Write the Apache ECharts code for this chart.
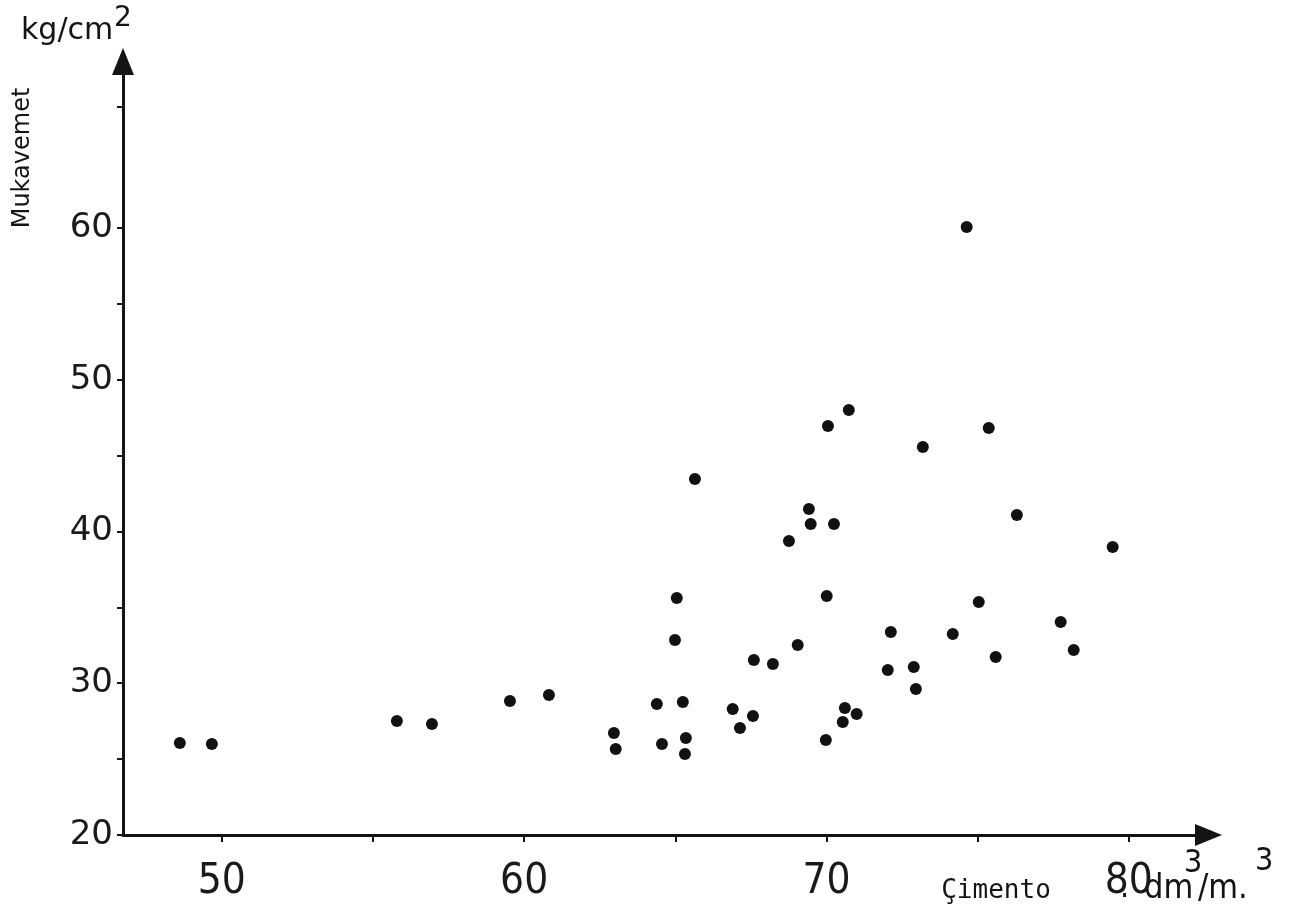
<!DOCTYPE html>
<html><head><meta charset="utf-8">
<script src="https://cdn.jsdelivr.net/npm/echarts@6/dist/echarts.min.js"></script>
<style>html,body{margin:0;padding:0;background:#fff}#c{width:1296px;height:919px}</style>
</head><body><div id="c"></div>
<script>
// Çimento (dm3/m3)
const cement = [48.61, 49.67, 55.79, 56.95, 59.53, 60.82, 62.97, 63.03, 64.39, 64.56,
  64.99, 65.05, 65.25, 65.35, 65.32, 65.65, 66.90, 67.14, 67.57, 67.60,
  68.23, 68.76, 69.05, 69.42, 69.48, 69.98, 70.01, 70.05, 70.25, 70.54,
  70.61, 70.74, 71.00, 72.03, 72.13, 72.89, 72.96, 73.19, 74.18, 74.64,
  75.04, 75.37, 75.60, 76.30, 77.75, 78.18, 79.47];
// Mukavemet (kg/cm2)
const strength = [26.06, 26.00, 27.51, 27.31, 28.83, 29.23, 26.72, 25.67, 28.63, 26.00,
  32.85, 35.62, 28.76, 26.39, 25.34, 43.46, 28.30, 27.05, 27.84, 31.53,
  31.27, 39.37, 32.52, 41.48, 40.49, 26.26, 35.75, 46.95, 40.49, 27.45,
  28.37, 48.01, 27.97, 30.87, 33.38, 31.07, 29.62, 45.57, 33.25, 60.07,
  35.35, 46.82, 31.73, 41.09, 34.04, 32.19, 38.98];
const xTickLabels = [50, 60, 70, 80];
const xTicks = [50, 55, 60, 65, 70, 75, 80];
const yTickLabels = [20, 30, 40, 50, 60];
const yTicks = [20, 25, 30, 35, 40, 45, 50, 55, 60, 68];

const points = cement.map((x, i) => [x, strength[i]]);
const ink = '#141414';
const narrow = "'Liberation Sans Narrow', 'DejaVu Sans Condensed', sans-serif";

const chart = echarts.init(document.getElementById('c'), null, {renderer: 'canvas'});
chart.setOption({
  backgroundColor: '#ffffff',
  animation: false,
  grid: {left: 123, right: 87.5, top: 61.5, bottom: 84, containLabel: false},
  xAxis: {
    type: 'value', min: 46.73, max: 82.64,
    axisLine: {show: true, symbol: ['none', 'triangle'], symbolSize: [22, 27],
      lineStyle: {color: ink, width: 3}},
    axisTick: {show: true, inside: false, length: 7, customValues: xTicks,
      lineStyle: {color: ink, width: 2}},
    axisLabel: {customValues: xTickLabels, margin: 47, verticalAlign: 'middle',
      fontFamily: narrow, fontSize: 42, color: '#1a1a1a'},
    splitLine: {show: false}
  },
  yAxis: {
    type: 'value', min: 20, max: 70.97,
    axisLine: {show: true, symbol: ['none', 'triangle'], symbolSize: [22, 27],
      lineStyle: {color: ink, width: 3}},
    axisTick: {show: true, inside: false, length: 6, customValues: yTicks,
      lineStyle: {color: ink, width: 2}},
    axisLabel: {customValues: yTickLabels, margin: 10,
      fontFamily: 'DejaVu Sans', fontSize: 34, color: '#1a1a1a'},
    splitLine: {show: false}
  },
  series: [{
    type: 'scatter', data: points, symbol: 'circle', symbolSize: 12,
    itemStyle: {color: '#111111', opacity: 1}
  }],
  graphic: [
    {type: 'text', x: 21, y: 31, style: {text: 'kg/cm', font: "30px 'DejaVu Sans'", fill: ink, verticalAlign: 'middle'}},
    {type: 'text', x: 114, y: 19, style: {text: '2', font: "28px 'DejaVu Sans'", fill: ink, verticalAlign: 'middle'}},
    {type: 'text', x: 23, y: 158, rotation: Math.PI / 2,
      style: {text: 'Mukavemet', font: "24px 'DejaVu Sans'", fill: ink, align: 'center', verticalAlign: 'middle'}},
    {type: 'text', x: 996, y: 891, style: {text: 'Çimento', font: "26px 'DejaVu Sans Mono'", fill: ink, align: 'center', verticalAlign: 'middle'}},
    {type: 'text', x: 1120, y: 889, style: {text: '.', font: "32px " + narrow, fill: ink, verticalAlign: 'middle'}},
    {type: 'text', x: 1144, y: 889, style: {text: 'dm', font: "34px " + narrow, fill: ink, verticalAlign: 'middle'}},
    {type: 'text', x: 1184, y: 864, style: {text: '3', font: "32px " + narrow, fill: ink, verticalAlign: 'middle'}},
    {type: 'text', x: 1198, y: 889, style: {text: '/m.', font: "34px " + narrow, fill: ink, verticalAlign: 'middle'}},
    {type: 'text', x: 1255, y: 862, style: {text: '3', font: "32px " + narrow, fill: ink, verticalAlign: 'middle'}}
  ]
});
</script>
</body></html>
